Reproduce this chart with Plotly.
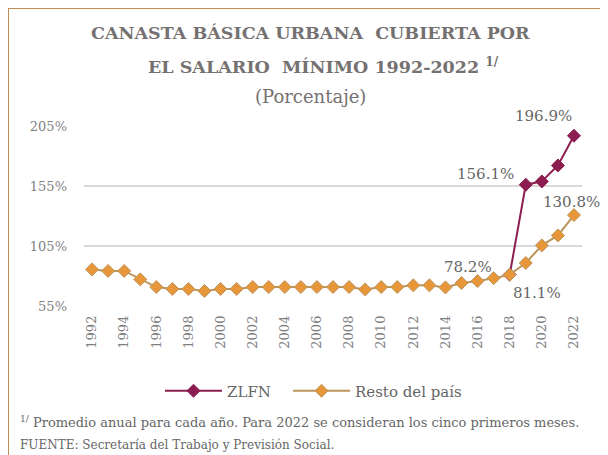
import plotly.graph_objects as go

years = list(range(1992, 2023))
resto = [85.5, 84.2, 84.2, 77.2, 70.8, 69.2, 69.2, 67.5, 69.2, 69.2,
         70.8, 70.8, 70.8, 70.8, 70.8, 70.8, 70.8, 68.8, 70.8, 70.8,
         72.2, 72.2, 70.5, 74.2, 75.8, 78.2, 81.1, 90.8, 105.5, 113.8, 130.8]
zlfn_years = [2018, 2019, 2020, 2021, 2022]
zlfn = [81.1, 156.1, 158.8, 172.1, 196.9]
y_ticks = [55, 105, 155, 205]
x_ticks = list(range(1992, 2023, 2))

FONT = "DejaVu Serif"
C_Z = "#8C1D50"
C_R_LINE = "#BC955C"
C_R_MARK = "#E8963A"
GRAY = "#666666"

fig = go.Figure()
fig.add_trace(go.Scatter(
    x=zlfn_years, y=zlfn, name="ZLFN", mode="lines+markers", legend="legend",
    line=dict(color=C_Z, width=2),
    marker=dict(symbol="diamond", size=10, color=C_Z, line=dict(color=C_Z, width=1)),
))
fig.add_trace(go.Scatter(
    x=years, y=resto, name="Resto del país", mode="lines+markers", legend="legend2",
    line=dict(color=C_R_LINE, width=2),
    marker=dict(symbol="diamond", size=10, color=C_R_MARK, line=dict(color=C_R_LINE, width=1)),
))

def lab(x, y, dx, dy):
    fig.add_annotation(x=x, y=y, xref="x", yref="y", text=f"{y:.1f}%",
                       showarrow=False, xshift=dx, yshift=dy,
                       xanchor="center", yanchor="middle",
                       font=dict(family=FONT, size=15, color=GRAY))

lab(zlfn_years[-1], zlfn[-1], -30, 20)
lab(zlfn_years[1], zlfn[1], -40, 11)
lab(years[-1], resto[-1], -2, 13)
lab(years[25], resto[25], -26, 11)
lab(years[26], resto[26], 27, -18)

# titles
fig.add_annotation(xref="paper", yref="paper", x=0.454, y=(306 - 33) / 180,
                   xanchor="center", yanchor="middle", showarrow=False,
                   text="<b>CANASTA BÁSICA URBANA  CUBIERTA POR</b>",
                   font=dict(family=FONT, size=17.5, color="#767171"))
fig.add_annotation(xref="paper", yref="paper", x=0.48, y=(306 - 65) / 180,
                   xanchor="center", yanchor="middle", showarrow=False,
                   text="<b>EL SALARIO  MÍNIMO 1992-2022 <sup>1/</sup></b>",
                   font=dict(family=FONT, size=17.5, color="#767171"))
fig.add_annotation(xref="paper", yref="paper", x=0.454, y=(306 - 97) / 180,
                   xanchor="center", yanchor="middle", showarrow=False,
                   text="(Porcentaje)",
                   font=dict(family=FONT, size=18, color="#767171"))
# footnotes
fig.add_annotation(xref="paper", yref="paper", x=(18 - 84) / 498, y=(306 - 422) / 180,
                   xanchor="left", yanchor="middle", showarrow=False,
                   text="<sup>1/</sup> Promedio anual para cada año. Para 2022 se consideran los cinco primeros meses.",
                   font=dict(family=FONT, size=13, color=GRAY))
fig.add_annotation(xref="paper", yref="paper", x=(18 - 84) / 498, y=(306 - 445) / 180,
                   xanchor="left", yanchor="middle", showarrow=False,
                   text="FUENTE: Secretaría del Trabajo y Previsión Social.",
                   font=dict(family=FONT, size=12, color=GRAY))

# border (figure frame)
fig.add_shape(type="rect", xref="paper", yref="paper",
              x0=(8 - 84) / 498, x1=(660 - 84) / 498,
              y0=(306 - 500) / 180, y1=(306 - 8) / 180,
              line=dict(color="#BE8F52", width=2), layer="below")

leg_common = dict(orientation="h", xanchor="left", y=(306 - 391) / 180, yanchor="middle",
                  font=dict(family=FONT, size=15, color=GRAY), itemwidth=57,
                  bgcolor="rgba(0,0,0,0)")

fig.update_layout(
    width=608, height=455,
    margin=dict(l=76, r=34, t=118, b=157),
    paper_bgcolor="white", plot_bgcolor="white",
    font=dict(family=FONT, color=GRAY),
    showlegend=True,
    legend=dict(x=(160 - 84) / 498, **leg_common),
    legend2=dict(x=(288 - 84) / 498, **leg_common),
    xaxis=dict(range=[1991.5, 2022.5], tickvals=x_ticks, ticktext=[str(t) for t in x_ticks],
               tickangle=-90, showgrid=False, zeroline=False, showline=False,
               ticks="", ticklabelstandoff=6,
               tickfont=dict(family=FONT, size=13, color="#7F7F7F")),
    yaxis=dict(range=[55, 205], tickvals=y_ticks, ticktext=[f"{t}%" for t in y_ticks],
               showgrid=True, gridcolor="#D9D9D9", gridwidth=1.5, zeroline=False,
               showline=False, ticks="", ticklabelstandoff=16,
               tickfont=dict(family=FONT, size=13, color="#7F7F7F")),
)

fig.write_html("out.html")
